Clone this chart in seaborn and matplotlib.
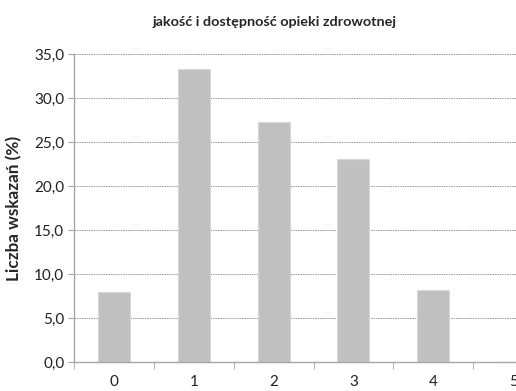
import matplotlib
matplotlib.use("Agg")
import matplotlib.pyplot as plt
import seaborn as sns
import pandas as pd
import numpy as np
from matplotlib.ticker import FixedLocator, FuncFormatter

categories = ["0", "1", "2", "3", "4", "5"]
values = [7.9, 33.3, 27.3, 23.1, 8.2, 0.0]
title = "jakość i dostępność opieki zdrowotnej"
ylabel = "Liczba wskazań (%)"
yticks = [0, 5, 10, 15, 20, 25, 30, 35]

sns.set_style("white")
plt.rcParams['font.family'] = ['Lato', 'DejaVu Sans']

df = pd.DataFrame({"cat": categories, "val": values})

fig = plt.figure(figsize=(5.16, 3.91), dpi=100)
ax = fig.add_axes([74/516, 29/391, 479/516, 308/391])

sns.barplot(data=df, x="cat", y="val", order=categories, color="#C0C0C0",
            width=0.4, edgecolor="#D9D9D9", linewidth=0.8, saturation=1, ax=ax)

ax.set_xlim(-0.5, 5.5)
ax.set_ylim(0, 35)
ax.set_yticks(yticks)
ax.yaxis.set_major_formatter(FuncFormatter(lambda v, p: f"{v:.1f}".replace(".", ",")))
ax.yaxis.grid(True, linestyle=(0, (1.5, 1)), color="#969696", linewidth=0.7)
ax.set_axisbelow(True)

for s in ["top", "right"]:
    ax.spines[s].set_visible(False)
for s in ["left", "bottom"]:
    ax.spines[s].set_color("#A6A6A6")
    ax.spines[s].set_linewidth(1.0)


def fit_size(text, target_px, weight="normal"):
    r = fig.canvas.get_renderer()
    t = fig.text(0, 0, text, fontsize=10, fontweight=weight)
    w = t.get_window_extent(renderer=r).width
    t.remove()
    return 10 * target_px / w


tick_fs = fit_size("35,0", 30)
title_fs = fit_size(title, 245, "bold")
ylab_fs = fit_size(ylabel, 145, "bold")

ax.tick_params(axis="y", which="major", length=4, color="#A6A6A6", direction="out",
               labelsize=tick_fs, labelcolor="#222222", pad=3, left=True)
ax.tick_params(axis="x", which="major", length=0, labelsize=tick_fs, labelcolor="#222222", pad=9)
ax.xaxis.set_minor_locator(FixedLocator(np.arange(-0.5, 6.0, 1.0)))
ax.tick_params(axis="x", which="minor", length=5, color="#A6A6A6", direction="out", bottom=True)

ax.set_xlabel("")
ax.set_ylabel(ylabel, fontsize=ylab_fs, fontweight="bold")
ax.yaxis.set_label_coords(-52/479, 0.5)
fig.text(275/516, 1 - 22/391, title, ha="center", va="center", fontsize=title_fs, fontweight="bold")

fig.savefig("out.png", dpi=100)
